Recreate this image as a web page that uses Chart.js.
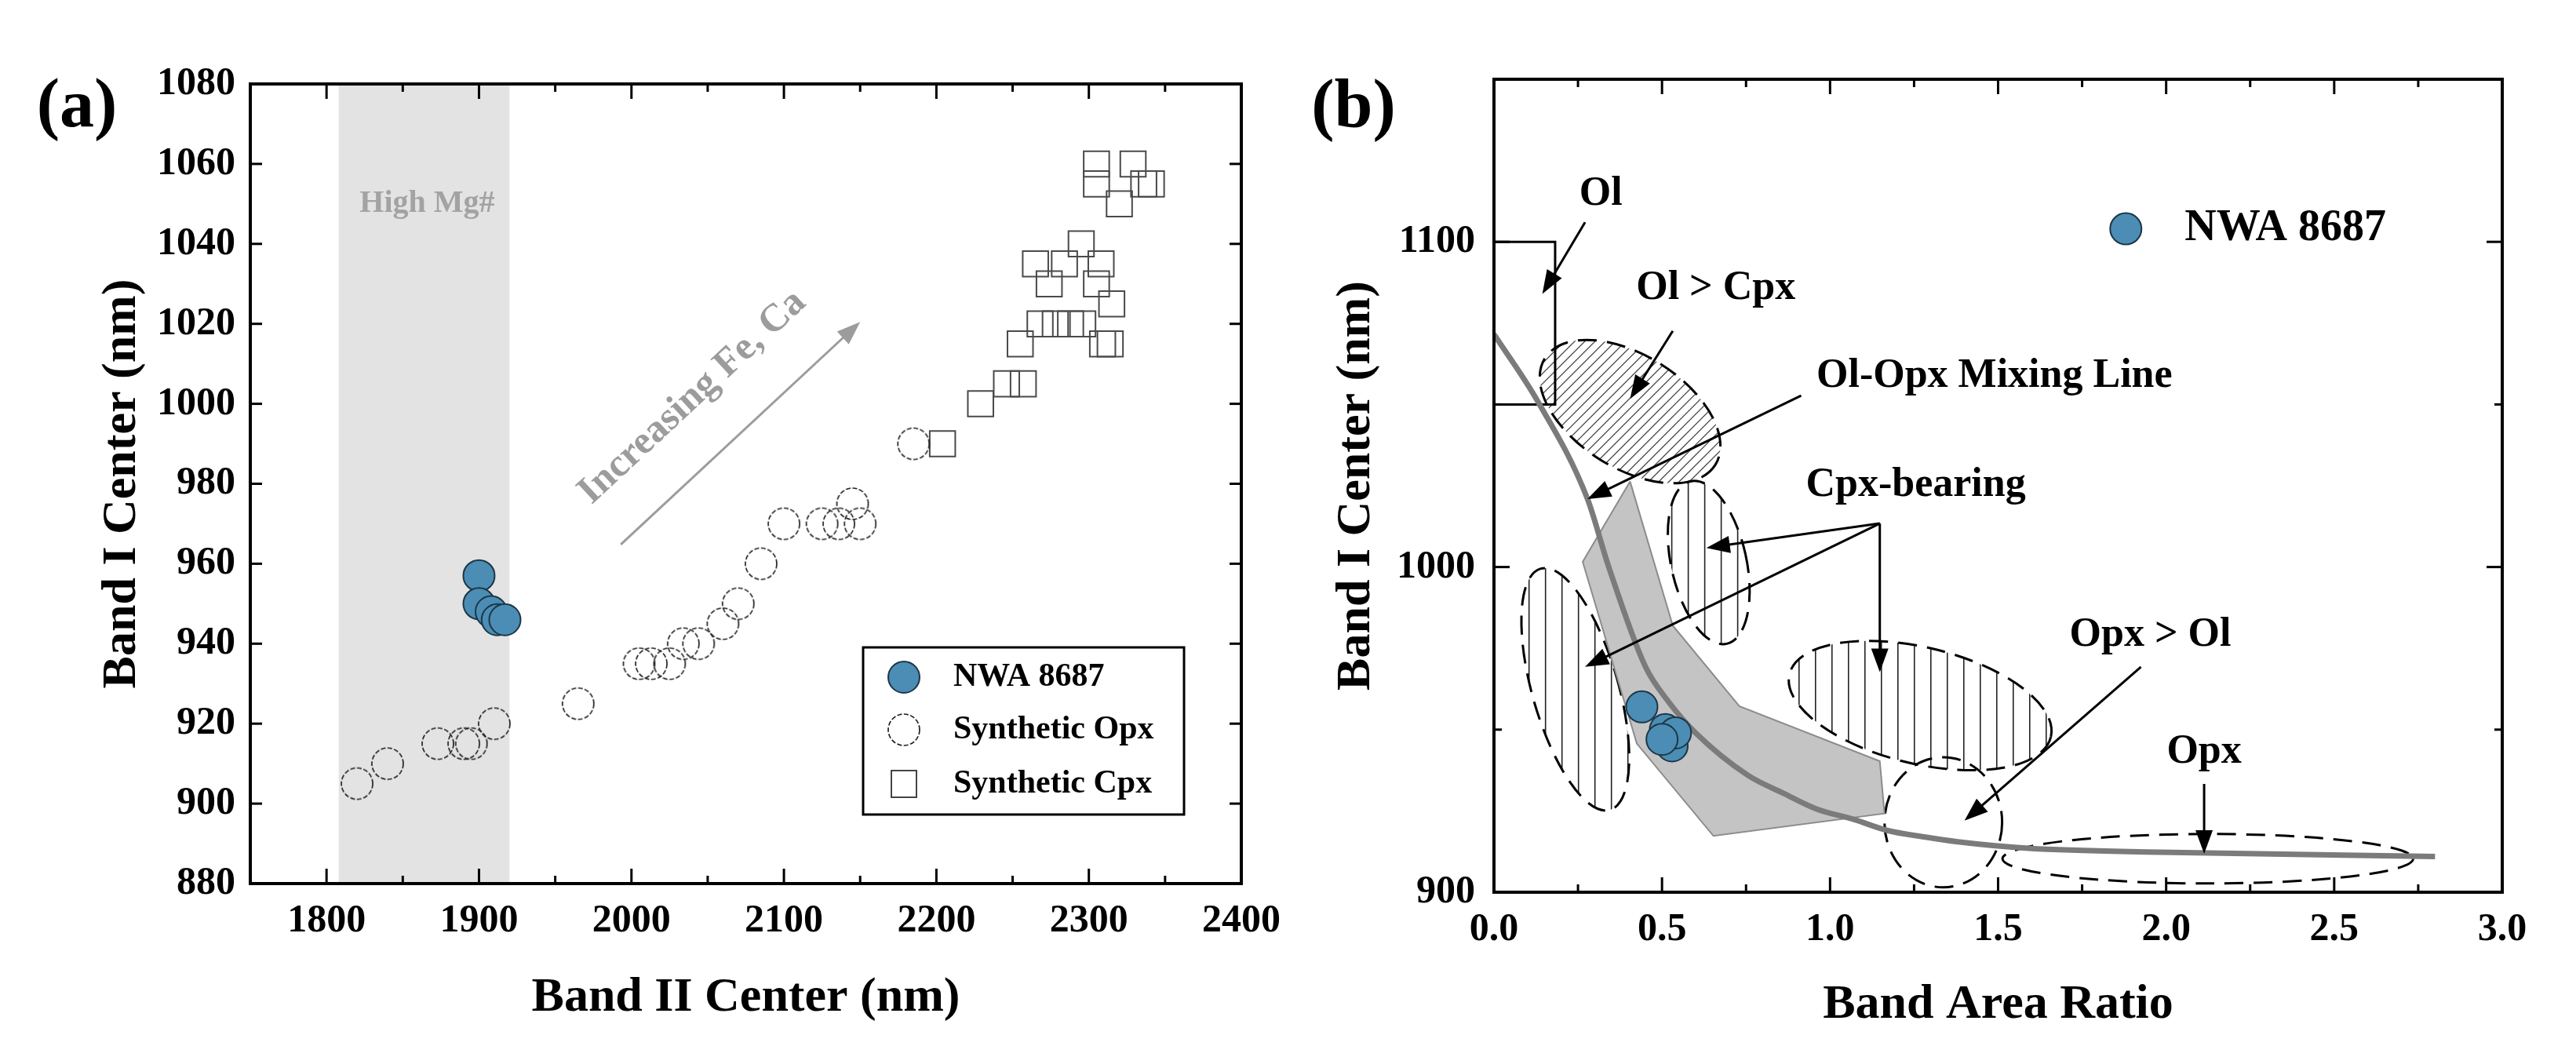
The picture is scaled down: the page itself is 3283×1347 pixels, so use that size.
<!DOCTYPE html>
<html>
<head>
<meta charset="utf-8">
<script src="https://cdn.jsdelivr.net/npm/chart.js@4.4.0/dist/chart.umd.min.js"></script>
<style>
  html, body { margin: 0; padding: 0; background: #fff; }
  #wrap { position: relative; width: 3283px; height: 1347px; }
  #chartA { position: absolute; left: 0; top: 0; }
  #chartB { position: absolute; left: 1650px; top: 0; }
</style>
</head>
<body>
<div id="wrap">
  <canvas id="chartA" width="1650" height="1347"></canvas>
  <canvas id="chartB" width="1633" height="1347"></canvas>
</div>
<script>
const SERIF = "'Liberation Serif', 'Times New Roman', serif";
const NWA_FILL = "#4b8db4";
const NWA_EDGE = "#1c3646";

// ---------- panel (a): Band II center vs Band I center ----------
const nwaBand2 = [1900, 1900, 1908, 1912, 1917];
const nwaBand1 = [957, 950, 948, 946, 946];

const opxBand2 = [1820, 1840, 1873, 1890, 1895, 1910, 1965, 2005, 2013, 2025, 2034, 2044,
                  2060, 2070, 2085, 2100, 2125, 2136, 2150, 2145, 2185];
const opxBand1 = [905, 910, 915, 915, 915, 920, 925, 935, 935, 935, 940, 940,
                  945, 950, 960, 970, 970, 970, 970, 975, 990];

const cpxBand2 = [2204, 2229, 2246, 2257, 2255, 2268, 2278, 2288, 2296, 2309, 2314, 2315,
                  2305, 2274, 2265, 2284, 2308, 2295, 2305, 2305, 2329, 2320, 2336, 2341];
const cpxBand1 = [990, 1000, 1005, 1005, 1015, 1020, 1020, 1020, 1020, 1015, 1015, 1025,
                  1030, 1030, 1035, 1035, 1035, 1040, 1060, 1055, 1060, 1050, 1055, 1055];

const highMgBand = [1808, 1920];          // Band II range of the grey strip
const trendX = [1993, 2150];              // "Increasing Fe, Ca" arrow
const trendY = [964.8, 1020.5];

const xTicksA = [1800, 1900, 2000, 2100, 2200, 2300, 2400];
const xMinorA = [1850, 1950, 2050, 2150, 2250, 2350];
const yTicksA = [880, 900, 920, 940, 960, 980, 1000, 1020, 1040, 1060, 1080];

// ---------- panel (b): Band area ratio vs Band I center ----------
const nwaBAR = [0.44, 0.51, 0.53, 0.54, 0.50];
const nwaBand1B = [957, 950, 945, 949, 947];

const mixX = [0, 0.13, 0.278, 0.34, 0.45, 0.52, 0.60, 0.755, 0.86, 0.96, 1.07, 1.17,
              1.28, 1.38, 1.59, 1.98, 2.8];
const mixY = [1071.6, 1051, 1021, 1000.5, 969.5, 958.5, 949, 936, 930.5, 925.6, 922.4, 919,
              917, 915.5, 913.5, 912.3, 911];

const polyX = [0.405, 0.264, 0.425, 0.653, 1.162, 1.148, 0.73, 0.532, 0.405];
const polyY = [1026.3, 1001.6, 945.7, 917.3, 924.2, 940.3, 957.2, 982, 1026.3];

const olBoxX = [0, 0.182, 0.182, 0];
const olBoxY = [1100, 1100, 1050, 1050];

// ellipses: centre, semi-axes (data units), tilt in degrees
const ellCx   = [0.405, 0.639, 0.242, 1.268, 1.337, 2.124];
const ellCy   = [1047.8, 1001.4, 962.4, 957.4, 921.5, 910.3];
const ellRx   = [0.299, 0.112, 0.128, 0.40, 0.175, 0.611];
const ellRy   = [17.4, 25.6, 38.6, 17.9, 20.0, 7.6];
const ellTilt = [32, -12.5, -16, 13.5, 0, 0];
const ellHatch = ["diag", "vert", "vert", "vert", "none", "none"];

const labelText = ["Ol", "Ol > Cpx", "Ol-Opx Mixing Line", "Cpx-bearing", "Opx > Ol", "Opx"];
const labelX = [0.318, 0.66, 1.489, 1.255, 1.953, 2.113];
const labelY = [1114.7, 1085.6, 1058.6, 1025.2, 978.9, 943];

const arrowX0 = [0.271, 0.532, 0.914, 1.148, 1.148, 1.148, 1.925, 2.113];
const arrowY0 = [1106, 1072.6, 1052.7, 1013.4, 1013.4, 1013.4, 969.3, 933.3];
const arrowX1 = [0.144, 0.405, 0.278, 0.632, 0.271, 1.148, 1.40, 2.113];
const arrowY1 = [1084, 1051.7, 1020.9, 1005.9, 969.3, 967.7, 922, 911.8];

const xTicksB = [0, 0.5, 1.0, 1.5, 2.0, 2.5, 3.0];
const xMinorB = [0.25, 0.75, 1.25, 1.75, 2.25, 2.75];
const yTicksB = [900, 1000, 1100];
const yMinorB = [950, 1050];

// ---------- helpers ----------
const toPts = (xs, ys) => xs.map((v, i) => ({ x: v, y: ys[i] }));

function dashedCircle(r) {
  const c = document.createElement("canvas");
  const s = Math.ceil(2 * r + 6);
  c.width = s; c.height = s;
  const g = c.getContext("2d");
  g.setLineDash([6, 2.5]);
  g.lineWidth = 1.7;
  g.strokeStyle = "#222";
  g.beginPath();
  g.arc(s / 2, s / 2, r, 0, Math.PI * 2);
  g.stroke();
  return c;
}
const opxMarker = dashedCircle(20);

function drawArrow(ctx, x0, y0, x1, y1, color, lw, headLen, headW) {
  const ang = Math.atan2(y1 - y0, x1 - x0);
  const c = Math.cos(ang), s = Math.sin(ang);
  ctx.strokeStyle = color;
  ctx.fillStyle = color;
  ctx.lineWidth = lw;
  ctx.setLineDash([]);
  ctx.beginPath();
  ctx.moveTo(x0, y0);
  ctx.lineTo(x1 - c * headLen * 0.8, y1 - s * headLen * 0.8);
  ctx.stroke();
  ctx.beginPath();
  ctx.moveTo(x1, y1);
  ctx.lineTo(x1 - headLen * c + (headW / 2) * s, y1 - headLen * s - (headW / 2) * c);
  ctx.lineTo(x1 - headLen * c - (headW / 2) * s, y1 - headLen * s + (headW / 2) * c);
  ctx.closePath();
  ctx.fill();
}

function line(ctx, a, b, c, d) {
  ctx.beginPath(); ctx.moveTo(a, b); ctx.lineTo(c, d); ctx.stroke();
}

function frameWithTicks(chart, t) {
  const { ctx, chartArea: a, scales: { x, y } } = chart;
  ctx.save();
  ctx.strokeStyle = "#000";
  ctx.lineWidth = 3;
  ctx.setLineDash([]);
  const xt = (vals, len) => vals.forEach(v => {
    const p = x.getPixelForValue(v);
    line(ctx, p, a.bottom, p, a.bottom - len);
    line(ctx, p, a.top, p, a.top + len);
  });
  const yt = (vals, len) => vals.forEach(v => {
    const p = y.getPixelForValue(v);
    line(ctx, a.left, p, a.left + len, p);
    line(ctx, a.right, p, a.right - len, p);
  });
  xt(t.xMajor, t.xLen); xt(t.xMinor, t.minorLen);
  yt(t.yMajor, t.yLen); yt(t.yMinor, t.minorLen);
  ctx.lineWidth = 4;
  ctx.strokeRect(a.left, a.top, a.right - a.left, a.bottom - a.top);
  ctx.restore();
}

function axisOptions(min, max, tickVals, fmt, title, titlePad, tickPad, size) {
  return {
    type: "linear", min: min, max: max,
    afterBuildTicks: s => { s.ticks = tickVals.map(v => ({ value: v })); },
    afterFit: s => { if (s.isHorizontal()) s.height = size; else s.width = size; },
    grid: { display: false, drawTicks: false },
    border: { display: false },
    ticks: {
      autoSkip: false, maxRotation: 0, padding: tickPad, color: "#000",
      font: { family: SERIF, size: 50, weight: "bold" },
      callback: fmt
    },
    title: {
      display: true, text: title, color: "#000",
      font: { family: SERIF, size: 62, weight: "bold" },
      padding: titlePad
    }
  };
}

// ---------- panel (a) ----------
const panelA = {
  id: "panelA",
  beforeDatasetsDraw(chart) {
    const { ctx, chartArea: a, scales: { x, y } } = chart;
    ctx.save();
    ctx.fillStyle = "#e3e3e3";
    const l = x.getPixelForValue(highMgBand[0]), r = x.getPixelForValue(highMgBand[1]);
    ctx.fillRect(l, a.top, r - l, a.bottom - a.top);
    ctx.fillStyle = "#a3a3a3";
    ctx.font = "bold 40px " + SERIF;
    ctx.textAlign = "center";
    ctx.textBaseline = "middle";
    ctx.fillText("High Mg#", x.getPixelForValue(1866), y.getPixelForValue(1050));

    const x0 = x.getPixelForValue(trendX[0]), y0 = y.getPixelForValue(trendY[0]);
    const x1 = x.getPixelForValue(trendX[1]), y1 = y.getPixelForValue(trendY[1]);
    drawArrow(ctx, x0, y0, x1, y1, "#9c9c9c", 3, 30, 22);
    const ang = Math.atan2(y1 - y0, x1 - x0);
    ctx.translate(x.getPixelForValue(2040), y.getPixelForValue(1001.6));
    ctx.rotate(ang);
    ctx.fillStyle = "#9c9c9c";
    ctx.font = "bold 50px " + SERIF;
    ctx.fillText("Increasing Fe, Ca", 0, 0);
    ctx.restore();
  },
  afterDraw(chart) {
    const { ctx, chartArea: a } = chart;
    frameWithTicks(chart, { xMajor: xTicksA, xMinor: xMinorA, yMajor: yTicksA, yMinor: [],
                            xLen: 19, yLen: 15, minorLen: 10 });
    ctx.save();
    // legend box
    const bx = a.right - 482, by = a.bottom - 301, bw = 409, bh = 213;
    ctx.lineWidth = 3;
    ctx.strokeStyle = "#000";
    ctx.strokeRect(bx, by, bw, bh);
    const mx = bx + 52, tx = bx + 115;
    const rows = [by + 38, by + 105, by + 174];
    ctx.beginPath();
    ctx.arc(mx, rows[0], 20, 0, Math.PI * 2);
    ctx.fillStyle = NWA_FILL; ctx.fill();
    ctx.lineWidth = 2; ctx.strokeStyle = NWA_EDGE; ctx.stroke();
    ctx.drawImage(opxMarker, mx - opxMarker.width / 2, rows[1] - opxMarker.height / 2);
    ctx.strokeStyle = "#444"; ctx.lineWidth = 2;
    ctx.strokeRect(mx - 16, rows[2] - 17, 32, 34);
    ctx.fillStyle = "#000";
    ctx.font = "bold 42px " + SERIF;
    ctx.textAlign = "left";
    ctx.textBaseline = "middle";
    ctx.fillText("NWA 8687", tx, rows[0]);
    ctx.fillText("Synthetic Opx", tx, rows[1]);
    ctx.fillText("Synthetic Cpx", tx, rows[2]);
    // panel tag
    ctx.font = "bold 88px " + SERIF;
    ctx.textAlign = "center";
    ctx.fillText("(a)", 98, 138);
    ctx.restore();
  }
};

new Chart(document.getElementById("chartA"), {
  type: "scatter",
  data: {
    datasets: [
      { label: "NWA 8687", data: toPts(nwaBand2, nwaBand1), pointRadius: 20,
        pointBackgroundColor: NWA_FILL, pointBorderColor: NWA_EDGE, pointBorderWidth: 2 },
      { label: "Synthetic Opx", data: toPts(opxBand2, opxBand1), pointRadius: 20,
        pointStyle: opxMarker },
      { label: "Synthetic Cpx", data: toPts(cpxBand2, cpxBand1), pointRadius: 23,
        pointStyle: "rect", pointBackgroundColor: "rgba(0,0,0,0)",
        pointBorderColor: "#4a4a4a", pointBorderWidth: 2 }
    ]
  },
  options: {
    responsive: false, animation: false, devicePixelRatio: 1,
    layout: { padding: { left: 0, top: 107, right: 66, bottom: 0 } },
    plugins: { legend: { display: false }, tooltip: { enabled: false } },
    scales: {
      x: axisOptions(1750, 2400, xTicksA, v => v, "Band II Center (nm)",
                     { top: 0, bottom: 38 }, 18, 221),
      y: axisOptions(880, 1080, yTicksA, v => v, "Band I Center (nm)",
                     { top: 119, bottom: 0 }, 19, 319)
    }
  },
  plugins: [panelA]
});

// ---------- panel (b) ----------
const panelB = {
  id: "panelB",
  beforeDatasetsDraw(chart) {
    const { ctx, scales: { x, y } } = chart;
    const ppx = (x.getPixelForValue(1) - x.getPixelForValue(0));
    const ppy = (y.getPixelForValue(900) - y.getPixelForValue(1000)) / 100;
    ctx.save();
    ellCx.forEach((cx, i) => {
      const px = x.getPixelForValue(cx), py = y.getPixelForValue(ellCy[i]);
      const rx = ellRx[i] * ppx, ry = ellRy[i] * ppy;
      const rot = ellTilt[i] * Math.PI / 180;
      const R = Math.max(rx, ry) + 4;
      if (ellHatch[i] !== "none") {
        ctx.save();
        ctx.beginPath();
        ctx.ellipse(px, py, rx, ry, rot, 0, Math.PI * 2);
        ctx.clip();
        ctx.setLineDash([]);
        if (ellHatch[i] === "vert") {
          ctx.strokeStyle = "#222";
          ctx.lineWidth = 1.6;
          for (let xx = px - R; xx <= px + R; xx += 21) line(ctx, xx, py - R, xx, py + R);
        } else {
          ctx.strokeStyle = "#444";
          ctx.lineWidth = 1.3;
          for (let xx = px - 3 * R; xx <= px + R; xx += 13) line(ctx, xx, py + R, xx + 2 * R, py - R);
        }
        ctx.restore();
      }
      ctx.beginPath();
      ctx.ellipse(px, py, rx, ry, rot, 0, Math.PI * 2);
      ctx.strokeStyle = "#000";
      ctx.lineWidth = 3;
      ctx.setLineDash([24, 13]);
      ctx.stroke();
    });
    ctx.restore();
  },
  afterDatasetsDraw(chart) {
    const { ctx, scales: { x, y } } = chart;
    ctx.save();
    arrowX0.forEach((v, i) => {
      drawArrow(ctx, x.getPixelForValue(v), y.getPixelForValue(arrowY0[i]),
                x.getPixelForValue(arrowX1[i]), y.getPixelForValue(arrowY1[i]), "#000", 3, 30, 22);
    });
    ctx.fillStyle = "#000";
    ctx.font = "bold 52px " + SERIF;
    ctx.textAlign = "center";
    ctx.textBaseline = "middle";
    labelText.forEach((t, i) => ctx.fillText(t, x.getPixelForValue(labelX[i]), y.getPixelForValue(labelY[i])));
    // in-plot key
    const kx = x.getPixelForValue(1.88), ky = y.getPixelForValue(1104);
    ctx.beginPath();
    ctx.arc(kx, ky, 20, 0, Math.PI * 2);
    ctx.fillStyle = NWA_FILL; ctx.fill();
    ctx.lineWidth = 2; ctx.strokeStyle = NWA_EDGE; ctx.stroke();
    ctx.fillStyle = "#000";
    ctx.font = "bold 56px " + SERIF;
    ctx.textAlign = "left";
    ctx.fillText("NWA 8687", x.getPixelForValue(2.055), ky);
    ctx.restore();
  },
  afterDraw(chart) {
    const { ctx } = chart;
    frameWithTicks(chart, { xMajor: xTicksB, xMinor: xMinorB, yMajor: yTicksB, yMinor: yMinorB,
                            xLen: 19, yLen: 20, minorLen: 10 });
    ctx.save();
    ctx.fillStyle = "#000";
    ctx.font = "bold 88px " + SERIF;
    ctx.textAlign = "center";
    ctx.textBaseline = "middle";
    ctx.fillText("(b)", 75, 139);
    ctx.restore();
  }
};

new Chart(document.getElementById("chartB"), {
  type: "scatter",
  data: {
    datasets: [
      { label: "NWA 8687", data: toPts(nwaBAR, nwaBand1B), pointRadius: 20,
        pointBackgroundColor: NWA_FILL, pointBorderColor: NWA_EDGE, pointBorderWidth: 2 },
      { label: "Ol-Opx mixing line", data: toPts(mixX, mixY), showLine: true, pointRadius: 0,
        borderColor: "#7b7b7b", borderWidth: 7, cubicInterpolationMode: "monotone", fill: false },
      { label: "Ol-Opx field", data: toPts(polyX, polyY), showLine: true, pointRadius: 0,
        borderColor: "#8c8c8c", borderWidth: 2, backgroundColor: "#c4c4c4", fill: "shape",
        tension: 0 },
      { label: "Ol", data: toPts(olBoxX, olBoxY), showLine: true, pointRadius: 0,
        borderColor: "#000", borderWidth: 3, fill: false, tension: 0 }
    ]
  },
  options: {
    responsive: false, animation: false, devicePixelRatio: 1,
    layout: { padding: { left: 0, top: 101, right: 94, bottom: 0 } },
    plugins: { legend: { display: false }, tooltip: { enabled: false } },
    scales: {
      x: axisOptions(0, 3, xTicksB, v => Number(v).toFixed(1), "Band Area Ratio",
                     { top: 0, bottom: 29 }, 18, 210),
      y: axisOptions(900, 1150, yTicksB, v => v, "Band I Center (nm)",
                     { top: 42, bottom: 0 }, 24, 254)
    }
  },
  plugins: [panelB]
});
</script>
</body>
</html>
